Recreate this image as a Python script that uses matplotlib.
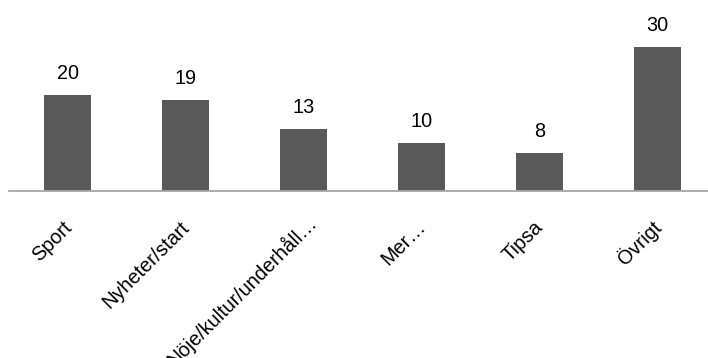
import matplotlib.pyplot as plt
import matplotlib.transforms as mtransforms

categories = ['Sport', 'Nyheter/start', 'Nöje/kultur/underhåll…', 'Mer…', 'Tipsa', 'Övrigt']
values = [20, 19, 13, 10, 8, 30]

plt.rcParams['font.family'] = ['Liberation Sans', 'DejaVu Sans']

fig = plt.figure(figsize=(7.08, 3.58), dpi=100)
ax = fig.add_axes([9 / 708, 167 / 358, 707 / 708, 168 / 358])

x = range(len(categories))
ax.bar(x, values, width=0.4, color='#595959', zorder=2)
for i, v in zip(x, values):
    ax.annotate(str(v), xy=(i, v), xytext=(0, 11.5), textcoords='offset points',
                ha='center', va='baseline', fontsize=14.3, color='black')

ax.set_xlim(-0.5, 5.5)
ax.set_ylim(0, 35)
ax.set_yticks([])
for side in ['left', 'top', 'right']:
    ax.spines[side].set_visible(False)
ax.spines['bottom'].set_color('#a6a6a6')
ax.spines['bottom'].set_linewidth(1.3)

ax.set_xticks(list(x))
ax.set_xticklabels(categories, rotation=45, ha='right', va='center',
                   rotation_mode='anchor', fontsize=14.3)
ax.tick_params(axis='x', length=0, pad=24)
for lbl in ax.get_xticklabels():
    # the long label sits a little higher and further right
    dx, dy = (10, 5) if len(lbl.get_text()) > 15 else (1, 0)
    shift = mtransforms.ScaledTranslation(dx / 100, dy / 100, fig.dpi_scale_trans)
    lbl.set_transform(lbl.get_transform() + shift)

fig.savefig('out.png', dpi=100)
